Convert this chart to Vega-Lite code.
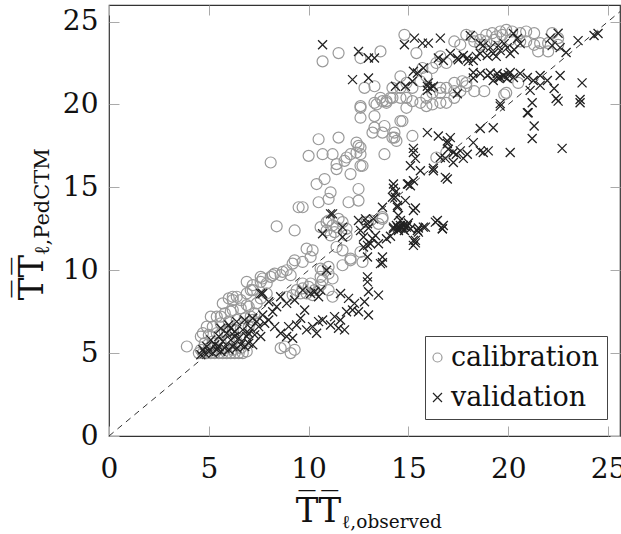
{
"$schema":"https://vega.github.io/schema/vega-lite/v6.json",
"width":511,"height":431,
"autosize":{"type":"none"},
"padding":{"left":109,"top":5,"right":1,"bottom":98},
"background":"white",
"datasets":{
"cal":[
{"s":"calibration","x":4.5,"y":5.0},{"s":"calibration","x":4.7,"y":5.0},{"s":"calibration","x":4.9,"y":5.0},{"s":"calibration","x":5.1,"y":5.0},{"s":"calibration","x":5.3,"y":5.0},{"s":"calibration","x":5.5,"y":5.0},{"s":"calibration","x":5.7,"y":5.0},{"s":"calibration","x":5.9,"y":5.0},{"s":"calibration","x":6.1,"y":5.0},{"s":"calibration","x":6.3,"y":5.0},{"s":"calibration","x":6.5,"y":5.0},{"s":"calibration","x":6.7,"y":5.0},{"s":"calibration","x":6.9,"y":5.1},
{"s":"calibration","x":4.6,"y":5.2},{"s":"calibration","x":5.0,"y":5.3},{"s":"calibration","x":5.4,"y":5.2},{"s":"calibration","x":5.8,"y":5.3},{"s":"calibration","x":6.2,"y":5.2},{"s":"calibration","x":6.6,"y":5.3},{"s":"calibration","x":4.8,"y":5.6},{"s":"calibration","x":5.2,"y":5.7},{"s":"calibration","x":5.6,"y":5.6},{"s":"calibration","x":6.0,"y":5.8},{"s":"calibration","x":6.4,"y":5.7},{"s":"calibration","x":6.8,"y":5.9},
{"s":"calibration","x":4.6,"y":6.0},{"s":"calibration","x":5.0,"y":6.1},{"s":"calibration","x":5.4,"y":6.2},{"s":"calibration","x":5.8,"y":6.3},{"s":"calibration","x":6.2,"y":6.4},{"s":"calibration","x":6.6,"y":6.5},{"s":"calibration","x":7.0,"y":6.6},{"s":"calibration","x":5.2,"y":6.6},{"s":"calibration","x":5.6,"y":6.8},{"s":"calibration","x":6.0,"y":6.9},{"s":"calibration","x":6.4,"y":7.0},{"s":"calibration","x":6.8,"y":7.1},{"s":"calibration","x":7.2,"y":7.0},
{"s":"calibration","x":5.4,"y":7.2},{"s":"calibration","x":5.8,"y":7.4},{"s":"calibration","x":6.2,"y":7.6},{"s":"calibration","x":6.6,"y":7.7},{"s":"calibration","x":7.0,"y":7.8},{"s":"calibration","x":7.4,"y":8.0},{"s":"calibration","x":4.9,"y":6.6},{"s":"calibration","x":7.3,"y":7.4},{"s":"calibration","x":7.6,"y":8.3},{"s":"calibration","x":7.9,"y":8.6},{"s":"calibration","x":7.2,"y":8.8},{"s":"calibration","x":6.6,"y":8.2},
{"s":"calibration","x":3.9,"y":5.4},{"s":"calibration","x":8.6,"y":5.3},{"s":"calibration","x":8.8,"y":5.4},{"s":"calibration","x":9.3,"y":5.2},{"s":"calibration","x":9.1,"y":5.0},
{"s":"calibration","x":6.9,"y":9.3},{"s":"calibration","x":7.6,"y":9.6},{"s":"calibration","x":8.2,"y":9.7},{"s":"calibration","x":8.7,"y":9.9},{"s":"calibration","x":9.2,"y":10.4},{"s":"calibration","x":9.1,"y":9.7},{"s":"calibration","x":7.9,"y":9.2},{"s":"calibration","x":5.7,"y":8.0},{"s":"calibration","x":6.0,"y":8.3},{"s":"calibration","x":6.2,"y":8.2},{"s":"calibration","x":6.4,"y":8.4},{"s":"calibration","x":6.9,"y":7.9},{"s":"calibration","x":7.1,"y":7.2},{"s":"calibration","x":5.1,"y":7.2},{"s":"calibration","x":4.7,"y":6.2},{"s":"calibration","x":5.6,"y":7.2},{"s":"calibration","x":6.1,"y":7.5},
{"s":"calibration","x":9.3,"y":10.6},{"s":"calibration","x":8.9,"y":10.0},{"s":"calibration","x":8.6,"y":9.7},{"s":"calibration","x":8.3,"y":9.8},{"s":"calibration","x":8.1,"y":9.6},{"s":"calibration","x":7.7,"y":9.5},{"s":"calibration","x":7.6,"y":9.3},{"s":"calibration","x":7.2,"y":9.1},{"s":"calibration","x":7.1,"y":8.8},{"s":"calibration","x":6.9,"y":8.6},{"s":"calibration","x":6.2,"y":8.4},
{"s":"calibration","x":10.7,"y":10.0},{"s":"calibration","x":11.0,"y":9.8},{"s":"calibration","x":10.6,"y":9.6},{"s":"calibration","x":11.2,"y":9.5},{"s":"calibration","x":10.1,"y":9.2},{"s":"calibration","x":9.7,"y":8.9},{"s":"calibration","x":9.6,"y":8.6},{"s":"calibration","x":9.9,"y":8.6},{"s":"calibration","x":10.3,"y":8.8},{"s":"calibration","x":10.7,"y":9.4},{"s":"calibration","x":9.2,"y":8.5},{"s":"calibration","x":9.4,"y":8.8},{"s":"calibration","x":8.9,"y":8.4},
{"s":"calibration","x":9.7,"y":9.2},{"s":"calibration","x":10.0,"y":9.0},{"s":"calibration","x":10.6,"y":9.1},{"s":"calibration","x":11.0,"y":8.8},{"s":"calibration","x":11.2,"y":8.4},{"s":"calibration","x":10.2,"y":8.5},
{"s":"calibration","x":9.9,"y":11.3},{"s":"calibration","x":10.2,"y":11.2},{"s":"calibration","x":10.1,"y":10.8},{"s":"calibration","x":9.7,"y":10.5},{"s":"calibration","x":10.6,"y":10.1},{"s":"calibration","x":11.0,"y":10.2},{"s":"calibration","x":11.4,"y":11.4},{"s":"calibration","x":11.7,"y":11.2},{"s":"calibration","x":12.1,"y":10.6},{"s":"calibration","x":11.7,"y":10.3},{"s":"calibration","x":12.7,"y":10.5},{"s":"calibration","x":12.6,"y":11.1},{"s":"calibration","x":12.1,"y":10.7},
{"s":"calibration","x":10.9,"y":12.9},{"s":"calibration","x":11.2,"y":12.7},{"s":"calibration","x":10.9,"y":12.4},{"s":"calibration","x":11.3,"y":12.3},{"s":"calibration","x":11.1,"y":12.1},{"s":"calibration","x":11.7,"y":12.9},{"s":"calibration","x":11.9,"y":12.5},{"s":"calibration","x":11.9,"y":12.1},{"s":"calibration","x":11.5,"y":13.1},{"s":"calibration","x":10.6,"y":12.6},{"s":"calibration","x":11.0,"y":13.0},{"s":"calibration","x":11.4,"y":12.6},
{"s":"calibration","x":12.9,"y":12.9},{"s":"calibration","x":13.5,"y":12.8},{"s":"calibration","x":13.7,"y":13.2},{"s":"calibration","x":13.1,"y":13.0},{"s":"calibration","x":13.7,"y":13.1},
{"s":"calibration","x":8.4,"y":12.65},{"s":"calibration","x":9.3,"y":12.4},{"s":"calibration","x":9.5,"y":13.8},{"s":"calibration","x":9.7,"y":13.8},
{"s":"calibration","x":10.5,"y":14.1},{"s":"calibration","x":11.1,"y":14.7},{"s":"calibration","x":11.0,"y":14.3},{"s":"calibration","x":12.5,"y":14.9},{"s":"calibration","x":12.0,"y":14.1},{"s":"calibration","x":12.5,"y":14.2},{"s":"calibration","x":10.4,"y":15.2},{"s":"calibration","x":10.8,"y":15.5},{"s":"calibration","x":11.4,"y":16.1},{"s":"calibration","x":12.1,"y":15.8},{"s":"calibration","x":12.7,"y":16.3},{"s":"calibration","x":11.8,"y":16.6},{"s":"calibration","x":8.1,"y":16.5},
{"s":"calibration","x":10.0,"y":16.9},{"s":"calibration","x":10.7,"y":17.0},{"s":"calibration","x":11.2,"y":17.0},{"s":"calibration","x":11.9,"y":16.8},{"s":"calibration","x":12.4,"y":17.1},{"s":"calibration","x":12.5,"y":17.5},{"s":"calibration","x":12.6,"y":17.0},{"s":"calibration","x":12.1,"y":17.0},{"s":"calibration","x":10.5,"y":17.9},{"s":"calibration","x":11.5,"y":18.0},{"s":"calibration","x":12.4,"y":17.7},{"s":"calibration","x":12.6,"y":17.4},{"s":"calibration","x":11.4,"y":16.4},{"s":"calibration","x":12.6,"y":16.3},{"s":"calibration","x":13.8,"y":17.0},
{"s":"calibration","x":12.6,"y":19.9},{"s":"calibration","x":13.4,"y":20.0},{"s":"calibration","x":13.9,"y":20.1},{"s":"calibration","x":12.6,"y":19.2},{"s":"calibration","x":13.3,"y":19.3},{"s":"calibration","x":13.8,"y":18.7},{"s":"calibration","x":14.6,"y":19.0},{"s":"calibration","x":13.2,"y":18.3},{"s":"calibration","x":14.3,"y":18.0},{"s":"calibration","x":14.4,"y":17.8},{"s":"calibration","x":15.2,"y":18.1},{"s":"calibration","x":14.2,"y":18.0},{"s":"calibration","x":14.3,"y":18.3},{"s":"calibration","x":14.7,"y":19.0},{"s":"calibration","x":13.7,"y":18.3},{"s":"calibration","x":13.3,"y":18.6},
{"s":"calibration","x":16.4,"y":16.8},{"s":"calibration","x":16.9,"y":17.1},
{"s":"calibration","x":14.8,"y":24.2},{"s":"calibration","x":15.4,"y":23.1},{"s":"calibration","x":11.5,"y":23.1},{"s":"calibration","x":10.7,"y":22.6},{"s":"calibration","x":12.6,"y":22.8},{"s":"calibration","x":13.6,"y":23.2},
{"s":"calibration","x":17.9,"y":24.2},{"s":"calibration","x":18.2,"y":24.1},{"s":"calibration","x":18.6,"y":23.9},{"s":"calibration","x":18.9,"y":24.2},{"s":"calibration","x":19.2,"y":24.3},{"s":"calibration","x":19.6,"y":24.4},{"s":"calibration","x":19.9,"y":24.5},{"s":"calibration","x":20.2,"y":24.4},{"s":"calibration","x":20.6,"y":24.3},{"s":"calibration","x":20.9,"y":24.4},{"s":"calibration","x":21.3,"y":24.3},{"s":"calibration","x":19.4,"y":24.1},{"s":"calibration","x":19.7,"y":24.2},
{"s":"calibration","x":17.3,"y":23.8},{"s":"calibration","x":17.6,"y":23.6},{"s":"calibration","x":18.3,"y":23.8},{"s":"calibration","x":18.6,"y":23.6},{"s":"calibration","x":18.9,"y":23.8},{"s":"calibration","x":19.3,"y":23.9},{"s":"calibration","x":20.1,"y":23.9},{"s":"calibration","x":20.6,"y":23.8},{"s":"calibration","x":20.9,"y":23.8},{"s":"calibration","x":21.3,"y":23.6},{"s":"calibration","x":21.6,"y":23.7},{"s":"calibration","x":22.0,"y":23.7},{"s":"calibration","x":22.5,"y":23.6},{"s":"calibration","x":21.5,"y":23.2},{"s":"calibration","x":22.0,"y":23.2},{"s":"calibration","x":22.2,"y":24.3},{"s":"calibration","x":22.5,"y":24.0},
{"s":"calibration","x":16.6,"y":22.9},{"s":"calibration","x":16.4,"y":22.5},{"s":"calibration","x":16.9,"y":22.5},{"s":"calibration","x":16.2,"y":22.2},{"s":"calibration","x":15.7,"y":22.2},{"s":"calibration","x":15.9,"y":21.7},{"s":"calibration","x":15.6,"y":21.4},{"s":"calibration","x":14.6,"y":21.7},{"s":"calibration","x":14.9,"y":21.3},{"s":"calibration","x":15.2,"y":21.0},{"s":"calibration","x":14.6,"y":21.0},{"s":"calibration","x":14.2,"y":21.0},
{"s":"calibration","x":12.8,"y":21.0},{"s":"calibration","x":13.3,"y":21.1},{"s":"calibration","x":13.6,"y":20.4},{"s":"calibration","x":13.9,"y":20.2},{"s":"calibration","x":14.2,"y":20.4},{"s":"calibration","x":14.6,"y":20.4},{"s":"calibration","x":14.9,"y":20.4},{"s":"calibration","x":15.2,"y":20.2},{"s":"calibration","x":15.6,"y":20.1},{"s":"calibration","x":15.9,"y":19.9},{"s":"calibration","x":16.2,"y":20.0},{"s":"calibration","x":16.6,"y":20.1},{"s":"calibration","x":16.9,"y":20.1},{"s":"calibration","x":17.3,"y":20.4},{"s":"calibration","x":17.6,"y":20.8},{"s":"calibration","x":17.9,"y":21.1},{"s":"calibration","x":18.3,"y":20.8},{"s":"calibration","x":18.8,"y":20.8},{"s":"calibration","x":19.8,"y":20.6},
{"s":"calibration","x":15.9,"y":20.4},{"s":"calibration","x":16.2,"y":20.7},{"s":"calibration","x":16.6,"y":20.7},{"s":"calibration","x":16.9,"y":21.0},{"s":"calibration","x":17.3,"y":21.3},{"s":"calibration","x":17.7,"y":21.4},{"s":"calibration","x":17.9,"y":21.3},{"s":"calibration","x":16.6,"y":21.0},{"s":"calibration","x":17.3,"y":20.8},
{"s":"calibration","x":20.5,"y":21.3},{"s":"calibration","x":19.9,"y":20.7},
{"s":"calibration","x":12.6,"y":19.8},{"s":"calibration","x":13.3,"y":20.1},{"s":"calibration","x":13.7,"y":20.2},{"s":"calibration","x":14.1,"y":20.4},{"s":"calibration","x":14.9,"y":19.8}
],
"val":[
{"s":"validation","x":4.6,"y":4.9},{"s":"validation","x":4.8,"y":5.0},{"s":"validation","x":5.0,"y":5.1},{"s":"validation","x":5.2,"y":5.0},{"s":"validation","x":5.4,"y":5.2},{"s":"validation","x":5.6,"y":5.1},{"s":"validation","x":5.8,"y":5.3},{"s":"validation","x":6.0,"y":5.2},{"s":"validation","x":6.2,"y":5.4},{"s":"validation","x":6.4,"y":5.3},{"s":"validation","x":6.6,"y":5.5},{"s":"validation","x":6.8,"y":5.4},{"s":"validation","x":7.0,"y":5.6},{"s":"validation","x":7.2,"y":5.5},
{"s":"validation","x":4.9,"y":5.4},{"s":"validation","x":5.3,"y":5.5},{"s":"validation","x":5.7,"y":5.7},{"s":"validation","x":6.1,"y":5.8},{"s":"validation","x":6.5,"y":5.9},{"s":"validation","x":6.9,"y":6.0},{"s":"validation","x":7.3,"y":6.1},{"s":"validation","x":7.6,"y":6.0},{"s":"validation","x":5.1,"y":5.8},{"s":"validation","x":5.5,"y":6.0},{"s":"validation","x":5.9,"y":6.2},{"s":"validation","x":6.3,"y":6.3},{"s":"validation","x":6.7,"y":6.4},{"s":"validation","x":7.1,"y":6.5},{"s":"validation","x":7.5,"y":6.6},{"s":"validation","x":7.8,"y":6.8},
{"s":"validation","x":5.6,"y":6.5},{"s":"validation","x":6.0,"y":6.7},{"s":"validation","x":6.4,"y":6.9},{"s":"validation","x":6.8,"y":7.0},{"s":"validation","x":7.2,"y":7.1},{"s":"validation","x":7.7,"y":7.3},{"s":"validation","x":8.0,"y":7.0},{"s":"validation","x":8.2,"y":7.5},{"s":"validation","x":8.4,"y":7.8},{"s":"validation","x":8.0,"y":8.1},{"s":"validation","x":8.6,"y":8.4},{"s":"validation","x":8.9,"y":8.0},{"s":"validation","x":8.3,"y":6.6},{"s":"validation","x":8.6,"y":6.2},{"s":"validation","x":8.9,"y":6.0},{"s":"validation","x":9.2,"y":5.9},
{"s":"validation","x":9.0,"y":6.6},{"s":"validation","x":9.4,"y":6.7},{"s":"validation","x":9.6,"y":7.1},{"s":"validation","x":9.9,"y":6.4},{"s":"validation","x":10.2,"y":6.6},{"s":"validation","x":10.5,"y":6.9},{"s":"validation","x":10.7,"y":7.0},{"s":"validation","x":10.4,"y":6.2},{"s":"validation","x":9.8,"y":7.6},{"s":"validation","x":9.3,"y":8.2},{"s":"validation","x":9.7,"y":8.8},{"s":"validation","x":7.6,"y":8.6},{"s":"validation","x":6.3,"y":6.0},{"s":"validation","x":5.5,"y":5.4},{"s":"validation","x":4.7,"y":5.2},{"s":"validation","x":6.1,"y":6.5},{"s":"validation","x":7.0,"y":6.2},{"s":"validation","x":7.4,"y":6.9},
{"s":"validation","x":11.1,"y":6.7},{"s":"validation","x":11.5,"y":6.5},{"s":"validation","x":11.8,"y":6.4},{"s":"validation","x":11.6,"y":7.0},{"s":"validation","x":11.9,"y":7.5},{"s":"validation","x":12.2,"y":7.6},{"s":"validation","x":12.5,"y":7.5},{"s":"validation","x":12.3,"y":8.0},{"s":"validation","x":12.8,"y":8.1},{"s":"validation","x":13.0,"y":7.3},{"s":"validation","x":11.3,"y":7.2},{"s":"validation","x":12.0,"y":8.3},
{"s":"validation","x":10.9,"y":10.0},{"s":"validation","x":10.1,"y":8.6},{"s":"validation","x":10.5,"y":8.4},{"s":"validation","x":10.3,"y":8.7},{"s":"validation","x":10.6,"y":8.8},{"s":"validation","x":7.7,"y":8.6},{"s":"validation","x":11.6,"y":8.6},{"s":"validation","x":12.95,"y":9.6},{"s":"validation","x":12.95,"y":9.3},{"s":"validation","x":13.0,"y":8.7},{"s":"validation","x":13.5,"y":8.5},{"s":"validation","x":12.95,"y":10.8},{"s":"validation","x":13.7,"y":10.8},{"s":"validation","x":13.6,"y":10.4},{"s":"validation","x":13.7,"y":10.45},
{"s":"validation","x":11.1,"y":13.4},{"s":"validation","x":11.2,"y":13.4},{"s":"validation","x":11.7,"y":12.6},{"s":"validation","x":10.7,"y":12.2},{"s":"validation","x":11.7,"y":12.0},
{"s":"validation","x":12.5,"y":13.0},{"s":"validation","x":12.85,"y":13.1},{"s":"validation","x":13.25,"y":13.1},{"s":"validation","x":12.95,"y":12.8},{"s":"validation","x":12.6,"y":12.4},{"s":"validation","x":13.0,"y":12.55},{"s":"validation","x":13.2,"y":11.9},{"s":"validation","x":13.35,"y":12.1},{"s":"validation","x":13.5,"y":11.6},{"s":"validation","x":13.1,"y":11.6},{"s":"validation","x":12.75,"y":11.4},{"s":"validation","x":12.95,"y":11.5},{"s":"validation","x":12.75,"y":12.0},{"s":"validation","x":13.9,"y":11.9},{"s":"validation","x":14.1,"y":12.05},
{"s":"validation","x":14.25,"y":12.5},{"s":"validation","x":14.45,"y":12.6},{"s":"validation","x":14.5,"y":12.4},{"s":"validation","x":14.6,"y":12.7},{"s":"validation","x":14.95,"y":12.7},{"s":"validation","x":15.1,"y":12.5},{"s":"validation","x":15.45,"y":12.4},{"s":"validation","x":15.75,"y":12.6},{"s":"validation","x":14.25,"y":12.6},{"s":"validation","x":14.6,"y":12.55},{"s":"validation","x":14.75,"y":12.7},{"s":"validation","x":15.0,"y":12.85},{"s":"validation","x":15.5,"y":12.55},{"s":"validation","x":15.85,"y":12.6},{"s":"validation","x":15.5,"y":12.3},{"s":"validation","x":14.5,"y":12.5},{"s":"validation","x":14.7,"y":12.6},{"s":"validation","x":14.8,"y":12.4},{"s":"validation","x":14.9,"y":12.6},{"s":"validation","x":14.4,"y":12.7},
{"s":"validation","x":16.35,"y":12.9},{"s":"validation","x":16.7,"y":12.5},{"s":"validation","x":16.45,"y":13.0},{"s":"validation","x":16.75,"y":12.7},{"s":"validation","x":15.35,"y":11.8},{"s":"validation","x":15.25,"y":11.5},{"s":"validation","x":15.25,"y":11.8},{"s":"validation","x":15.35,"y":11.65},
{"s":"validation","x":14.5,"y":13.3},{"s":"validation","x":14.6,"y":13.0},{"s":"validation","x":15.25,"y":13.6},{"s":"validation","x":15.35,"y":13.75},{"s":"validation","x":14.45,"y":13.8},{"s":"validation","x":13.7,"y":13.8},{"s":"validation","x":14.85,"y":14.2},{"s":"validation","x":14.45,"y":13.9},{"s":"validation","x":14.2,"y":14.4},{"s":"validation","x":14.35,"y":14.7},{"s":"validation","x":14.35,"y":14.4},{"s":"validation","x":14.25,"y":15.2},{"s":"validation","x":14.25,"y":14.95},{"s":"validation","x":14.95,"y":15.2},{"s":"validation","x":15.0,"y":15.2},{"s":"validation","x":15.25,"y":15.4},{"s":"validation","x":15.1,"y":15.1},
{"s":"validation","x":15.25,"y":17.1},{"s":"validation","x":15.35,"y":16.75},{"s":"validation","x":15.1,"y":16.3},{"s":"validation","x":15.6,"y":16.0},{"s":"validation","x":16.25,"y":16.15},{"s":"validation","x":16.85,"y":15.6},{"s":"validation","x":15.25,"y":17.35},{"s":"validation","x":16.25,"y":16.0},
{"s":"validation","x":15.95,"y":18.3},{"s":"validation","x":16.5,"y":18.1},{"s":"validation","x":16.95,"y":17.8},{"s":"validation","x":16.95,"y":15.5},{"s":"validation","x":16.7,"y":12.5},
{"s":"validation","x":17.1,"y":18.0},{"s":"validation","x":16.95,"y":17.65},{"s":"validation","x":16.6,"y":16.8},{"s":"validation","x":17.25,"y":17.1},{"s":"validation","x":17.6,"y":17.2},{"s":"validation","x":17.95,"y":17.0},{"s":"validation","x":18.25,"y":17.7},{"s":"validation","x":18.6,"y":17.2},{"s":"validation","x":19.0,"y":17.2},{"s":"validation","x":18.75,"y":17.1},{"s":"validation","x":16.85,"y":16.75},{"s":"validation","x":17.75,"y":16.75},{"s":"validation","x":17.25,"y":16.5},{"s":"validation","x":17.4,"y":17.0},{"s":"validation","x":17.0,"y":17.3},
{"s":"validation","x":19.6,"y":19.9},{"s":"validation","x":21.2,"y":20.1},{"s":"validation","x":21.0,"y":19.5},{"s":"validation","x":21.3,"y":18.7},{"s":"validation","x":21.2,"y":17.95},{"s":"validation","x":22.7,"y":17.35},{"s":"validation","x":20.1,"y":17.1},{"s":"validation","x":19.25,"y":18.6},{"s":"validation","x":18.6,"y":18.55},{"s":"validation","x":23.6,"y":20.1},{"s":"validation","x":22.5,"y":20.2},{"s":"validation","x":19.6,"y":20.05},
{"s":"validation","x":21.1,"y":20.85},{"s":"validation","x":21.6,"y":21.15},{"s":"validation","x":22.3,"y":20.96},{"s":"validation","x":22.4,"y":20.36},{"s":"validation","x":23.6,"y":20.3},{"s":"validation","x":23.7,"y":21.3},{"s":"validation","x":20.96,"y":19.5},
{"s":"validation","x":19.45,"y":21.87},{"s":"validation","x":19.6,"y":21.63},{"s":"validation","x":19.75,"y":21.75},{"s":"validation","x":19.95,"y":21.57},{"s":"validation","x":19.25,"y":21.45},{"s":"validation","x":20.26,"y":21.63},{"s":"validation","x":20.6,"y":21.87},{"s":"validation","x":20.96,"y":21.63},{"s":"validation","x":21.26,"y":21.45},{"s":"validation","x":21.6,"y":21.75},{"s":"validation","x":21.96,"y":21.45},{"s":"validation","x":22.6,"y":21.75},{"s":"validation","x":20.1,"y":21.93},{"s":"validation","x":18.6,"y":21.87},{"s":"validation","x":18.25,"y":21.93},{"s":"validation","x":18.96,"y":21.75},{"s":"validation","x":19.8,"y":21.7},{"s":"validation","x":20.0,"y":21.8},{"s":"validation","x":19.5,"y":21.6},{"s":"validation","x":18.25,"y":21.6},{"s":"validation","x":19.1,"y":21.9},
{"s":"validation","x":15.75,"y":22.2},{"s":"validation","x":16.1,"y":21.0},{"s":"validation","x":15.95,"y":21.1},{"s":"validation","x":16.25,"y":21.1},{"s":"validation","x":15.2,"y":21.4},{"s":"validation","x":14.85,"y":21.1},{"s":"validation","x":14.35,"y":21.1},{"s":"validation","x":17.45,"y":20.65},{"s":"validation","x":15.25,"y":22.0},{"s":"validation","x":15.45,"y":21.9},{"s":"validation","x":16.0,"y":21.3},{"s":"validation","x":15.95,"y":20.85},
{"s":"validation","x":16.5,"y":22.8},{"s":"validation","x":16.75,"y":22.65},{"s":"validation","x":17.1,"y":23.07},{"s":"validation","x":17.45,"y":22.8},{"s":"validation","x":17.75,"y":22.95},{"s":"validation","x":17.95,"y":22.8},{"s":"validation","x":18.25,"y":22.65},{"s":"validation","x":18.6,"y":23.07},{"s":"validation","x":18.75,"y":23.55},{"s":"validation","x":18.95,"y":22.95},{"s":"validation","x":19.25,"y":23.07},{"s":"validation","x":19.6,"y":23.25},{"s":"validation","x":19.95,"y":23.43},{"s":"validation","x":20.26,"y":24.28},{"s":"validation","x":20.46,"y":23.98},{"s":"validation","x":20.6,"y":23.67},{"s":"validation","x":20.1,"y":23.07},{"s":"validation","x":19.8,"y":23.67},{"s":"validation","x":19.5,"y":23.55},{"s":"validation","x":19.1,"y":23.43},{"s":"validation","x":18.6,"y":23.67},{"s":"validation","x":18.1,"y":24.16},{"s":"validation","x":17.5,"y":22.7},{"s":"validation","x":18.0,"y":22.6},{"s":"validation","x":18.4,"y":22.9},{"s":"validation","x":19.4,"y":22.9},{"s":"validation","x":20.3,"y":23.3},
{"s":"validation","x":22.1,"y":24.0},{"s":"validation","x":22.5,"y":24.3},{"s":"validation","x":22.2,"y":23.55},{"s":"validation","x":22.6,"y":23.43},{"s":"validation","x":22.9,"y":23.13},{"s":"validation","x":23.5,"y":23.85},{"s":"validation","x":24.3,"y":24.16},{"s":"validation","x":24.5,"y":24.28},
{"s":"validation","x":10.7,"y":23.6},{"s":"validation","x":12.5,"y":23.2},{"s":"validation","x":13.0,"y":22.8},{"s":"validation","x":13.3,"y":22.8},{"s":"validation","x":12.2,"y":21.5},{"s":"validation","x":13.0,"y":21.6},{"s":"validation","x":14.8,"y":23.6},{"s":"validation","x":15.3,"y":24.0},{"s":"validation","x":15.7,"y":23.7},{"s":"validation","x":16.0,"y":23.7},{"s":"validation","x":16.6,"y":24.0}
],
"diagA":[{"x":0,"y":0,"x2":12.8,"y2":12.8}],
"diagB":[{"x":12.8,"y":12.8,"x2":25.6,"y2":25.6}]
},
"resolve":{"axis":{"x":"independent","y":"independent"}},
"layer":[
{"data":{"name":"cal"},
 "mark":{"type":"point","filled":false,"size":121,"strokeWidth":1.2,"opacity":1},
 "encoding":{
  "x":{"field":"x","type":"quantitative","scale":{"domain":[0,25.6],"nice":false,"zero":false},
   "axis":{"orient":"bottom","values":[0,5,10,15,20,25],"ticks":false,"domain":false,"grid":false,"labelFont":"DejaVu Serif","labelFontSize":28,"labelPadding":19,"labelColor":"#111","labelFlush":false,"labelOverlap":false,
    "title":"T\u0305T\u0305","titleFont":"DejaVu Serif","titleFontSize":34,"titleFontWeight":"normal","titleColor":"#111","titleX":209,"titleY":85,"titleAlign":"center","titleBaseline":"alphabetic"}},
  "y":{"field":"y","type":"quantitative","scale":{"domain":[0,26],"nice":false,"zero":false},
   "axis":{"orient":"left","values":[0,5,10,15,20,25],"ticks":false,"domain":false,"grid":false,"labelFont":"DejaVu Serif","labelFontSize":28,"labelPadding":11,"labelColor":"#111","labelFlush":false,"labelOverlap":false,"title":null}},
  "color":{"field":"s","type":"nominal","scale":{"domain":["calibration","validation"],"range":["#999999","#222222"]},"legend":{"title":null,"labelFont":"DejaVu Serif"}},
  "shape":{"field":"s","type":"nominal","scale":{"domain":["calibration","validation"],"range":["circle","M-1,-1L1,1M-1,1L1,-1"]},"legend":{"title":null,"labelFont":"DejaVu Serif"}}
 }},
{"data":{"name":"val"},
 "mark":{"type":"point","filled":false,"size":81,"strokeWidth":1.3,"opacity":1},
 "encoding":{
  "x":{"field":"x","type":"quantitative",
   "axis":{"orient":"bottom","values":[0,5,10,15,20,25],"ticks":true,"tickSize":-10,"tickColor":"#aaaaaa","tickWidth":1,"labels":false,"domain":false,"grid":false,
    "title":"\u2113,observed","titleFont":"DejaVu Serif","titleFontSize":18.5,"titleFontWeight":"normal","titleColor":"#111","titleX":232,"titleY":91,"titleAlign":"left","titleBaseline":"alphabetic"}},
  "y":{"field":"y","type":"quantitative",
   "axis":{"orient":"left","values":[0,5,10,15,20,25],"ticks":true,"tickSize":-10,"tickColor":"#aaaaaa","tickWidth":1,"labels":false,"domain":false,"grid":false,"title":null}},
  "color":{"field":"s","type":"nominal","scale":{"domain":["calibration","validation"],"range":["#999999","#222222"]},"legend":{"title":null,"labelFont":"DejaVu Serif"}},
  "shape":{"field":"s","type":"nominal","scale":{"domain":["calibration","validation"],"range":["circle","M-1,-1L1,1M-1,1L1,-1"]},"legend":{"title":null,"labelFont":"DejaVu Serif"}}
 }},
{"data":{"name":"diagA"},
 "mark":{"type":"rule","color":"#333333","strokeWidth":1,"strokeDash":[6,5]},
 "encoding":{
  "x":{"field":"x","type":"quantitative","axis":{"orient":"top","values":[0,5,10,15,20,25],"ticks":true,"tickSize":-10,"tickColor":"#aaaaaa","labels":false,"domain":false,"grid":false,
    "title":"T\u0305T\u0305","titleFont":"DejaVu Serif","titleFontSize":34,"titleFontWeight":"normal","titleColor":"#111","titleAngle":270,"titleX":-67,"titleY":272,"titleAlign":"center","titleBaseline":"alphabetic"}},
  "y":{"field":"y","type":"quantitative","axis":{"orient":"right","values":[0,5,10,15,20,25],"ticks":true,"tickSize":-10,"tickColor":"#aaaaaa","labels":false,"domain":false,"grid":false,"title":null}},
  "x2":{"field":"x2"},
  "y2":{"field":"y2"}
 }},
{"data":{"name":"diagB"},
 "mark":{"type":"rule","color":"#333333","strokeWidth":1,"strokeDash":[6,5]},
 "encoding":{
  "x":{"field":"x","type":"quantitative","axis":{"orient":"top","ticks":false,"labels":false,"domain":false,"grid":false,
    "title":"\u2113,PedCTM","titleFont":"DejaVu Serif","titleFontSize":21,"titleFontWeight":"normal","titleColor":"#111","titleAngle":270,"titleX":-61,"titleY":250,"titleAlign":"left","titleBaseline":"alphabetic"}},
  "y":{"field":"y","type":"quantitative","axis":null},
  "x2":{"field":"x2"},
  "y2":{"field":"y2"}
 }}
],
"config":{
 "view":{"stroke":"#333333","strokeWidth":1.2},
 "legend":{"orient":"none","legendX":316,"legendY":331,"strokeColor":"#444444","fillColor":"white","padding":8,"cornerRadius":0,"labelFont":"DejaVu Serif","labelFontSize":27,"labelColor":"#111","symbolSize":81,"symbolStrokeWidth":1.2,"symbolOffset":-9,"rowPadding":12,"labelOffset":0}
}
}
